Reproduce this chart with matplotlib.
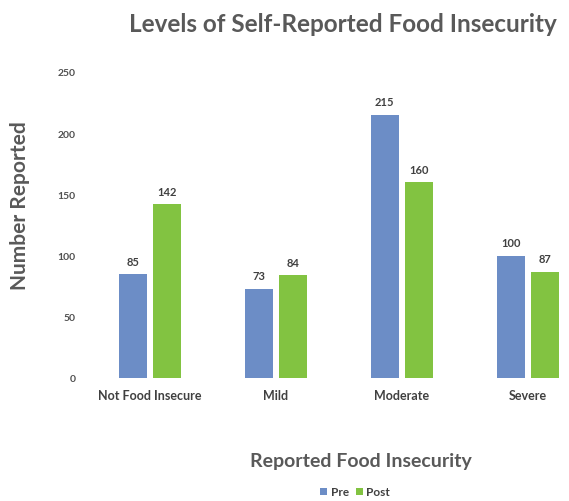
import matplotlib
matplotlib.use("Agg")
import matplotlib.pyplot as plt
import numpy as np

categories = ["Not Food Insecure", "Mild", "Moderate", "Severe"]
pre = [85, 73, 215, 100]
post = [142, 84, 160, 87]
yticks = [0, 50, 100, 150, 200, 250]

plt.rcParams['font.family'] = ['Lato', 'DejaVu Sans']

fig = plt.figure(figsize=(5.69, 5.02), dpi=100)
W, H = 569, 502
ax_left, ax_right = 87, 569
ax_bottom, ax_top = 379, 73
ax = fig.add_axes([ax_left / W, 1 - ax_bottom / H, (ax_right - ax_left) / W, (ax_bottom - ax_top) / H])

x = np.arange(len(categories))
bw = 0.225
off = 0.137
c_pre = "#6C8DC6"
c_post = "#82C341"
b1 = ax.bar(x - off, pre, bw, color=c_pre, label="Pre")
b2 = ax.bar(x + off, post, bw, color=c_post, label="Post")

for bars, vals in ((b1, pre), (b2, post)):
    for b, v in zip(bars, vals):
        ax.text(b.get_x() + b.get_width() / 2, v + 6, str(v), ha="center", va="bottom",
                fontsize=8, fontweight="bold", color="#404040")

ax.set_ylim(0, 250)
ax.set_xlim(-0.5, (ax_right - ax_left) / 126 - 0.5)
ax.set_yticks(yticks)
ax.set_yticklabels([str(t) for t in yticks], fontsize=7.5, fontweight="bold", color="#505050")
ax.set_xticks(x)
ax.set_xticklabels(categories, fontsize=9, fontweight="bold", color="#404040")
ax.tick_params(axis="both", length=0)
ax.tick_params(axis="y", pad=8)
ax.tick_params(axis="x", pad=8)
for s in ax.spines.values():
    s.set_visible(False)

fig.text(343 / W, 1 - 25 / H, "Levels of Self-Reported Food Insecurity", ha="center", va="center",
         fontsize=17.5, fontweight="bold", color="#595959")
fig.text(20 / W, 1 - 206 / H, "Number Reported", ha="center", va="center", rotation=90,
         fontsize=15, fontweight="bold", color="#595959")
fig.text(361 / W, 1 - 462 / H, "Reported Food Insecurity", ha="center", va="center",
         fontsize=14, fontweight="bold", color="#595959")

leg = fig.legend(handles=[b1, b2], labels=["Pre", "Post"], loc="center",
                 bbox_to_anchor=(355 / W, 1 - 493 / H), ncol=2, frameon=False,
                 fontsize=8.5, handlelength=0.6, handleheight=0.6, handletextpad=0.3,
                 columnspacing=0.6)
for t in leg.get_texts():
    t.set_fontweight("bold")
    t.set_color("#404040")

fig.savefig("out.png", dpi=100)
